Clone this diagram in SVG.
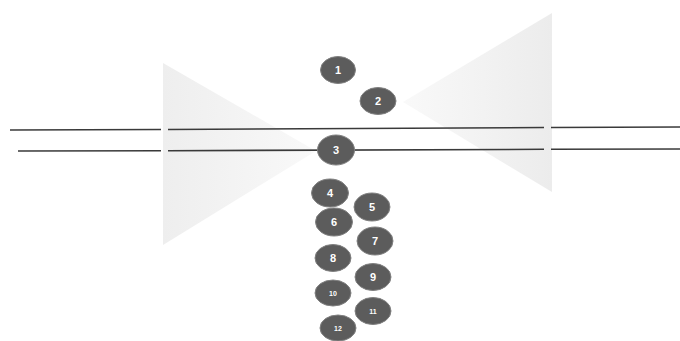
<svg xmlns="http://www.w3.org/2000/svg" width="680" height="341" viewBox="0 0 680 341">
<defs>
<linearGradient id="gl" x1="0" y1="0" x2="1" y2="0">
<stop offset="0" stop-color="#eeeeee"/>
<stop offset="1" stop-color="#f9f9f9"/>
</linearGradient>
<linearGradient id="gr" x1="1" y1="0" x2="0" y2="0">
<stop offset="0" stop-color="#ececec"/>
<stop offset="1" stop-color="#f9f9f9"/>
</linearGradient>
<style>
.n ellipse{fill:#5c5c5c;stroke:#808080;stroke-width:1}
.n text{fill:#ffffff;font-family:"Liberation Sans",Arial,sans-serif;font-weight:bold;font-size:11px;text-anchor:middle}
.n text.s{font-size:7px}
.ln{stroke:#3a3a3a;stroke-width:1.6;fill:none}
</style>
</defs>
<rect width="680" height="341" fill="#ffffff"/>
<g id="shapes">
<polygon id="left-cone" points="163,63 163,245 316,151" fill="url(#gl)"/>
<polygon id="right-cone" points="552,13 552,192 403,102" fill="url(#gr)"/>
</g>
<g id="connectors">
<line class="ln" x1="10" y1="130" x2="161" y2="129.5"/>
<line class="ln" x1="168" y1="129.5" x2="544" y2="127.5"/>
<line class="ln" x1="551" y1="127.5" x2="680" y2="127"/>
<line class="ln" x1="18" y1="151" x2="161" y2="150.7"/>
<line class="ln" x1="168" y1="150.7" x2="544" y2="149.3"/>
<line class="ln" x1="551" y1="149.3" x2="680" y2="149"/>
</g>
<g id="n1" class="n"><ellipse cx="338" cy="70" rx="17.5" ry="13.5"/><text x="338" y="74">1</text></g>
<g id="n2" class="n"><ellipse cx="378" cy="101" rx="18" ry="13.5"/><text x="378" y="105">2</text></g>
<g id="n3" class="n"><ellipse cx="336" cy="150" rx="18.5" ry="15"/><text x="336" y="154">3</text></g>
<g id="n4" class="n"><ellipse cx="330" cy="193" rx="18.5" ry="14"/><text x="330" y="197">4</text></g>
<g id="n5" class="n"><ellipse cx="372" cy="207" rx="18" ry="14"/><text x="372" y="211">5</text></g>
<g id="n6" class="n"><ellipse cx="334" cy="222" rx="18.5" ry="14"/><text x="334" y="226">6</text></g>
<g id="n7" class="n"><ellipse cx="375" cy="241" rx="18" ry="14"/><text x="375" y="245">7</text></g>
<g id="n8" class="n"><ellipse cx="333" cy="258" rx="18" ry="13.5"/><text x="333" y="262">8</text></g>
<g id="n9" class="n"><ellipse cx="373" cy="277" rx="18" ry="13.5"/><text x="373" y="281">9</text></g>
<g id="n10" class="n"><ellipse cx="333" cy="293" rx="18" ry="13"/><text class="s" x="333" y="295.5">10</text></g>
<g id="n11" class="n"><ellipse cx="373" cy="311" rx="18" ry="13.5"/><text class="s" x="373" y="313.5">11</text></g>
<g id="n12" class="n"><ellipse cx="338" cy="328" rx="18" ry="13"/><text class="s" x="338" y="330.5">12</text></g>
</svg>
